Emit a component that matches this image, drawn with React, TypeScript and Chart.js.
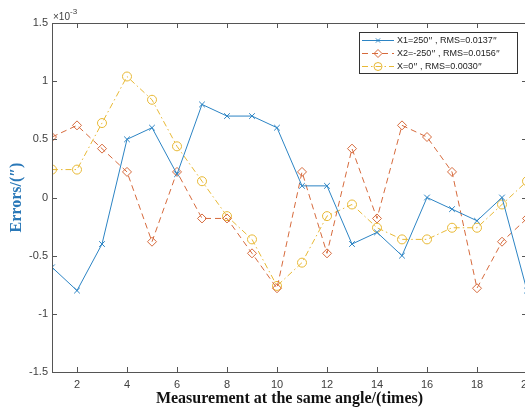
import React, { useEffect, useRef } from "react";
import { Chart, registerables } from "chart.js";

Chart.register(...registerables);

// ---- data (errors in units of 1e-3 arcsec) ----
const measurementIndex = [1, 2, 3, 4, 5, 6, 7, 8, 9, 10, 11, 12, 13, 14, 15, 16, 17, 18, 19, 20];
const xTickValues = [2, 4, 6, 8, 10, 12, 14, 16, 18, 20];
const yTickValues = [-1.5, -1, -0.5, 0, 0.5, 1, 1.5];
const seriesLabels = [
  "X1=250″ , RMS=0.0137″",
  "X2=-250″ , RMS=0.0156″",
  "X=0″ , RMS=0.0030″",
];
const x1Errors = [-0.6, -0.8, -0.4, 0.5, 0.6, 0.2, 0.8, 0.7, 0.7, 0.6, 0.1, 0.1, -0.4, -0.3, -0.5, 0, -0.1, -0.2, 0, -0.8];
const x2Errors = [0.52, 0.62, 0.42, 0.22, -0.38, 0.22, -0.18, -0.18, -0.48, -0.78, 0.22, -0.48, 0.42, -0.18, 0.62, 0.52, 0.22, -0.78, -0.38, -0.18];
const x0Errors = [0.24, 0.24, 0.64, 1.04, 0.84, 0.44, 0.14, -0.16, -0.36, -0.76, -0.56, -0.16, -0.06, -0.26, -0.36, -0.36, -0.26, -0.26, -0.06, 0.14];
const xTitle = "Measurement at the same angle/(times)";
const yTitle = "Errors/(″)";
const multiplierBase = "×10";
const multiplierExp = "-3";

const BLUE = "#2c84c4";
const RED = "#d66a3c";
const YELLOW = "#e8b936";
const AXIS = "#555555";
const TICK_TEXT = "#404040";
const SANS = '"Liberation Sans", Arial, sans-serif';
const CJK = '"Noto Sans CJK SC", sans-serif';
const SERIF = '"Liberation Serif", "Times New Roman", serif';

function drawMarker(ctx: CanvasRenderingContext2D, style: string, x: number, y: number, r: number) {
  ctx.beginPath();
  if (style === "crossRot") {
    const d = r * Math.SQRT1_2;
    ctx.moveTo(x - d, y - d);
    ctx.lineTo(x + d, y + d);
    ctx.moveTo(x - d, y + d);
    ctx.lineTo(x + d, y - d);
  } else if (style === "rectRot") {
    ctx.moveTo(x, y - r);
    ctx.lineTo(x + r, y);
    ctx.lineTo(x, y + r);
    ctx.lineTo(x - r, y);
    ctx.closePath();
  } else {
    ctx.arc(x, y, r, 0, Math.PI * 2);
  }
  ctx.stroke();
}

// draw text, rendering the double-prime sign with a CJK (full-width) face
function drawMixedText(ctx: CanvasRenderingContext2D, text: string, x: number, y: number, size: number) {
  let cx = x;
  const parts = text.split(/(″)/);
  for (const p of parts) {
    if (!p) continue;
    ctx.font = p === "″" ? `${size}px ${CJK}` : `${size}px ${SANS}`;
    ctx.fillText(p, cx, y);
    cx += ctx.measureText(p).width;
  }
}

const framePlugin = {
  id: "matlabFrame",
  afterDraw(chart: any) {
    const { ctx, chartArea } = chart;
    const { left, right, top, bottom } = chartArea;
    const xs = chart.scales.x;
    const ys = chart.scales.y;
    ctx.save();
    ctx.strokeStyle = AXIS;
    ctx.lineWidth = 1;
    ctx.setLineDash([]);
    ctx.strokeRect(Math.round(left) + 0.5, Math.round(top) + 0.5, Math.round(right - left), Math.round(bottom - top));
    const tl = 5;
    ctx.beginPath();
    for (const v of xTickValues) {
      const px = Math.round(xs.getPixelForValue(v)) + 0.5;
      ctx.moveTo(px, bottom);
      ctx.lineTo(px, bottom - tl);
      ctx.moveTo(px, top);
      ctx.lineTo(px, top + tl);
    }
    for (const v of yTickValues) {
      const py = Math.round(ys.getPixelForValue(v)) + 0.5;
      ctx.moveTo(left, py);
      ctx.lineTo(left + tl, py);
      ctx.moveTo(right, py);
      ctx.lineTo(right - tl, py);
    }
    ctx.stroke();

    // multiplier label
    ctx.fillStyle = TICK_TEXT;
    ctx.textBaseline = "middle";
    ctx.textAlign = "left";
    ctx.font = `10px ${SANS}`;
    ctx.fillText(multiplierBase, left + 1, top - 6);
    const w = ctx.measureText(multiplierBase).width;
    ctx.font = `8px ${SANS}`;
    ctx.fillText(multiplierExp, left + 1 + w, top - 11);

    // legend
    const bx = 359, by = 32, bw = 158, bh = 41;
    ctx.fillStyle = "#ffffff";
    ctx.fillRect(bx, by, bw, bh);
    ctx.strokeStyle = "#333333";
    ctx.strokeRect(bx + 0.5, by + 0.5, bw, bh);
    chart.data.datasets.forEach((ds: any, i: number) => {
      const yy = 40.5 + i * 13;
      ctx.strokeStyle = ds.borderColor;
      ctx.lineWidth = 1;
      ctx.setLineDash(ds.borderDash || []);
      ctx.beginPath();
      ctx.moveTo(362, yy);
      ctx.lineTo(394, yy);
      ctx.stroke();
      ctx.setLineDash([]);
      drawMarker(ctx, ds.pointStyle, 378, yy, ds.pointStyle === "crossRot" ? 3 : 4);
      ctx.fillStyle = "#222222";
      ctx.textBaseline = "middle";
      drawMixedText(ctx, ds.label, 397, yy, 9);
    });
    ctx.restore();
  },
};

export default function App() {
  const canvasRef = useRef<HTMLCanvasElement | null>(null);

  useEffect(() => {
    document.body.style.margin = "0";
    const canvas = canvasRef.current;
    if (!canvas) return;
    const toPoints = (arr: number[]) => measurementIndex.map((x, i) => ({ x, y: arr[i] }));
    const chart = new Chart(canvas, {
      type: "line",
      data: {
        datasets: [
          {
            label: seriesLabels[0],
            data: toPoints(x1Errors),
            borderColor: BLUE,
            borderWidth: 1,
            pointStyle: "crossRot",
            pointRadius: 4,
            pointBorderColor: BLUE,
            pointBorderWidth: 1,
            pointBackgroundColor: "transparent",
            fill: false,
            tension: 0,
          },
          {
            label: seriesLabels[1],
            data: toPoints(x2Errors),
            borderColor: RED,
            borderWidth: 1,
            borderDash: [6, 4],
            pointStyle: "rectRot",
            pointRadius: 4.5,
            pointBorderColor: RED,
            pointBorderWidth: 1,
            pointBackgroundColor: "transparent",
            fill: false,
            tension: 0,
          },
          {
            label: seriesLabels[2],
            data: toPoints(x0Errors),
            borderColor: YELLOW,
            borderWidth: 1,
            borderDash: [6, 3, 1.5, 3],
            pointStyle: "circle",
            pointRadius: 4.5,
            pointBorderColor: YELLOW,
            pointBorderWidth: 1,
            pointBackgroundColor: "transparent",
            fill: false,
            tension: 0,
          },
        ] as any,
      },
      options: {
        responsive: false,
        animation: false,
        events: [],
        layout: { padding: { left: 0, right: 18, top: 23, bottom: 0 } },
        plugins: { legend: { display: false }, tooltip: { enabled: false } },
        scales: {
          x: {
            type: "linear",
            min: 1,
            max: 20,
            afterBuildTicks: (s: any) => {
              s.ticks = xTickValues.map((v) => ({ value: v }));
            },
            afterFit: (s: any) => {
              s.height = 35;
              s.paddingLeft = 0;
              s.paddingRight = 0;
            },
            grid: { display: false, drawTicks: false },
            border: { display: false },
            ticks: {
              padding: 6,
              color: TICK_TEXT,
              autoSkip: false,
              maxRotation: 0,
              font: { family: SANS, size: 11 },
              callback: (v: any) => String(v),
            },
            title: {
              display: true,
              text: xTitle,
              color: "#111111",
              font: { family: SERIF, size: 16, weight: "bold", lineHeight: 1 },
              padding: { top: 0, bottom: 0 },
            },
          },
          y: {
            type: "linear",
            min: -1.5,
            max: 1.5,
            afterBuildTicks: (s: any) => {
              s.ticks = yTickValues.map((v) => ({ value: v }));
            },
            afterFit: (s: any) => {
              s.width = 52;
              s.paddingTop = 0;
              s.paddingBottom = 0;
            },
            grid: { display: false, drawTicks: false },
            border: { display: false },
            ticks: {
              padding: 4,
              color: TICK_TEXT,
              autoSkip: false,
              font: { family: SANS, size: 11 },
              callback: (v: any) => String(v),
            },
            title: {
              display: true,
              text: yTitle,
              color: "#2a78b8",
              font: { family: SERIF, size: 16, weight: "bold", lineHeight: 1 },
              padding: { top: 9, bottom: 0 },
            },
          },
        },
      } as any,
      plugins: [framePlugin],
    });
    return () => chart.destroy();
  }, []);

  return (
    <div style={{ width: 525, height: 407, overflow: "hidden", background: "#fff" }}>
      <canvas ref={canvasRef} width={545} height={407} style={{ display: "block" }} />
    </div>
  );
}
